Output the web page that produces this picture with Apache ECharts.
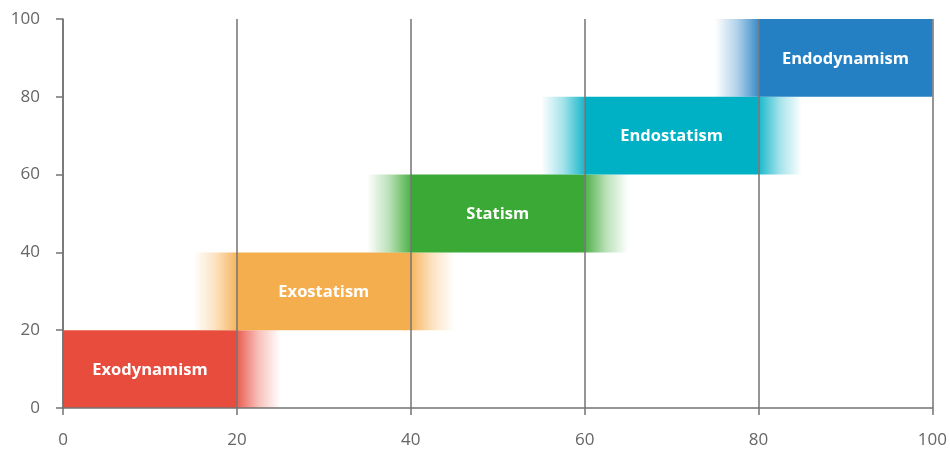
<!DOCTYPE html>
<html>
<head>
<meta charset="utf-8">
<script src="https://cdn.jsdelivr.net/npm/echarts@6/dist/echarts.min.js"></script>
<style>
  html, body { margin: 0; padding: 0; background: #fff; }
  #chart { width: 950px; height: 449px; }
</style>
</head>
<body>
<div id="chart"></div>
<script>
// Stages of the cycle, each occupying an x band and a y band
const stageNames = ['Exodynamism', 'Exostatism', 'Statism', 'Endostatism', 'Endodynamism'];
const xStart = [0, 20, 40, 60, 80];
const xEnd = [20, 40, 60, 80, 100];
const yLow = [0, 20, 40, 60, 80];
const yHigh = [20, 40, 60, 80, 100];
const stageColors = ['#e84c3d', '#f5ae4e', '#3ba935', '#00b0c4', '#2580c3'];

// Axis ticks
const xTicks = [0, 20, 40, 60, 80, 100];
const yTicks = [0, 20, 40, 60, 80, 100];

// width of the soft transition on each side of a band (x units)
const FADE = 5;
const AXIS_MIN = 0, AXIS_MAX = 100;

const seriesData = stageNames.map((name, i) => ({
  name: name,
  value: [xStart[i], xEnd[i], yLow[i], yHigh[i]],
  itemStyle: { color: stageColors[i] }
}));

function hexToRgba(hex, a) {
  const n = parseInt(hex.slice(1), 16);
  return 'rgba(' + ((n >> 16) & 255) + ',' + ((n >> 8) & 255) + ',' + (n & 255) + ',' + a + ')';
}

function renderItem(params, api) {
  const i = params.dataIndex;
  const x0 = api.value(0), x1 = api.value(1), y0 = api.value(2), y1 = api.value(3);
  const color = stageColors[i];
  const pTL = api.coord([x0, y1]);
  const pBR = api.coord([x1, y0]);
  const children = [];

  const leftFade = Math.max(x0 - FADE, AXIS_MIN);
  const rightFade = Math.min(x1 + FADE, AXIS_MAX);

  if (leftFade < x0) {
    const pL = api.coord([leftFade, y1]);
    children.push({
      type: 'rect',
      shape: { x: pL[0], y: pTL[1], width: pTL[0] - pL[0], height: pBR[1] - pTL[1] },
      style: {
        fill: new echarts.graphic.LinearGradient(0, 0, 1, 0, [
          { offset: 0, color: hexToRgba(color, 0) },
          { offset: 0.5, color: hexToRgba(color, 0.35) },
          { offset: 1, color: hexToRgba(color, 0.9) }
        ])
      }
    });
  }
  if (rightFade > x1) {
    const pR = api.coord([rightFade, y0]);
    children.push({
      type: 'rect',
      shape: { x: pBR[0], y: pTL[1], width: pR[0] - pBR[0], height: pBR[1] - pTL[1] },
      style: {
        fill: new echarts.graphic.LinearGradient(0, 0, 1, 0, [
          { offset: 0, color: hexToRgba(color, 0.9) },
          { offset: 0.5, color: hexToRgba(color, 0.35) },
          { offset: 1, color: hexToRgba(color, 0) }
        ])
      }
    });
  }
  children.push({
    type: 'rect',
    shape: { x: pTL[0], y: pTL[1], width: pBR[0] - pTL[0], height: pBR[1] - pTL[1] },
    style: { fill: color }
  });
  children.push({
    type: 'text',
    x: (pTL[0] + pBR[0]) / 2,
    y: (pTL[1] + pBR[1]) / 2 + 1,
    style: {
      text: stageNames[i],
      fill: '#ffffff',
      font: 'bold 16.5px "Open Sans", sans-serif',
      align: 'center',
      verticalAlign: 'middle'
    }
  });
  return { type: 'group', children: children };
}

const axisGray = '#737373';
const labelGray = '#666666';

const chart = echarts.init(document.getElementById('chart'), null, { renderer: 'canvas' });
chart.setOption({
  animation: false,
  grid: { left: 63, right: 17, top: 19, bottom: 41, containLabel: false },
  xAxis: {
    type: 'value',
    min: xTicks[0],
    max: xTicks[xTicks.length - 1],
    interval: 20,
    z: 10,
    axisLine: { show: true, lineStyle: { color: axisGray, width: 1.5 } },
    axisTick: { show: true, length: 7, lineStyle: { color: axisGray, width: 1.5 } },
    axisLabel: {
      margin: 24, color: labelGray, fontSize: 17,
      fontFamily: '"Open Sans", sans-serif'
    },
    splitLine: { show: true, lineStyle: { color: axisGray, width: 1.5 } }
  },
  yAxis: {
    type: 'value',
    min: yTicks[0],
    max: yTicks[yTicks.length - 1],
    interval: 20,
    z: 10,
    axisLine: { show: true, lineStyle: { color: axisGray, width: 1.5 } },
    axisTick: { show: true, length: 7, lineStyle: { color: axisGray, width: 1.5 } },
    axisLabel: {
      margin: 23, color: labelGray, fontSize: 17,
      fontFamily: '"Open Sans", sans-serif'
    },
    splitLine: { show: false }
  },
  series: [{
    type: 'custom',
    renderItem: renderItem,
    encode: { x: [0, 1], y: [2, 3] },
    data: seriesData,
    clip: true
  }]
});
</script>
</body>
</html>
